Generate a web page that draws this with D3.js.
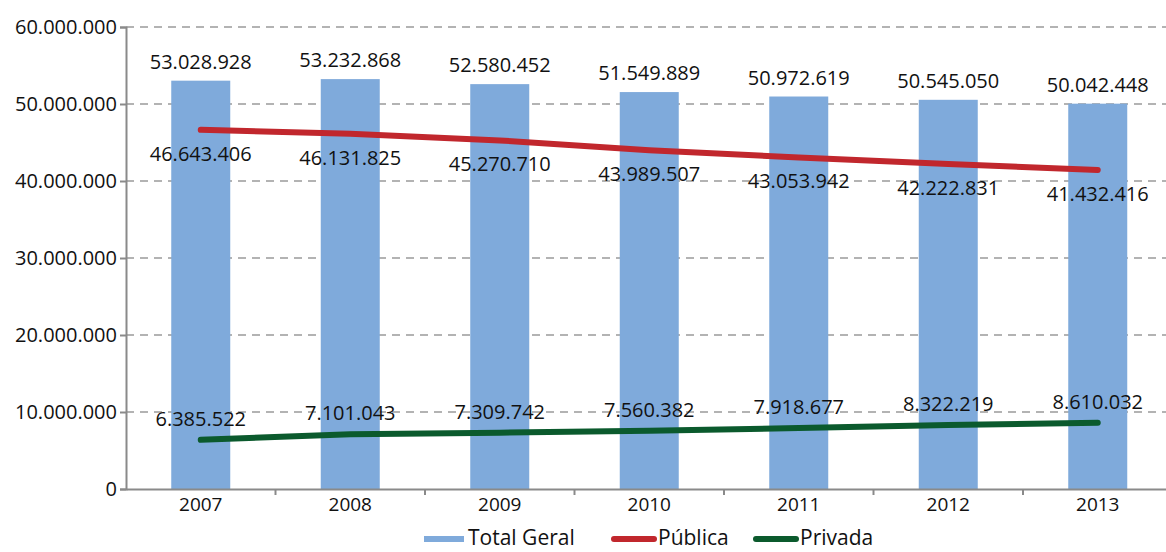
<!DOCTYPE html>
<meta charset="utf-8">
<html>
<head>
<script src="https://d3js.org/d3.v7.min.js"></script>
<style>
body { margin: 0; background: #fff; }
text { font-family: "Open Sans", "DejaVu Sans", sans-serif; fill: #111; }
</style>
</head>
<body>
<script>
var years = ["2007", "2008", "2009", "2010", "2011", "2012", "2013"];
var totalGeral = [53028928, 53232868, 52580452, 51549889, 50972619, 50545050, 50042448];
var publica = [46643406, 46131825, 45270710, 43989507, 43053942, 42222831, 41432416];
var privada = [6385522, 7101043, 7309742, 7560382, 7918677, 8322219, 8610032];
var yTicks = [0, 10000000, 20000000, 30000000, 40000000, 50000000, 60000000];

var W = 1166, H = 552;
var mLeft = 126, mTop = 27, mBottom = 489;

var fmt = function(v) { return d3.format(",")(v).replace(/,/g, "."); };

var svg = d3.select("body").append("svg").attr("width", W).attr("height", H);

var x = d3.scaleBand().domain(years).range([mLeft, mLeft + 7 * 149.5]).paddingInner(0).paddingOuter(0);
var y = d3.scaleLinear().domain([0, 60000000]).range([mBottom, mTop]);
var barW = 59;

// grid
svg.append("g").selectAll("line")
  .data(yTicks.slice(1))
  .enter().append("line")
  .attr("x1", mLeft).attr("x2", W)
  .attr("y1", function(d) { return y(d); }).attr("y2", function(d) { return y(d); })
  .attr("stroke", "#9a9a9a").attr("stroke-width", 1.5).attr("stroke-dasharray", "8,6");

// bars
svg.append("g").selectAll("rect")
  .data(totalGeral)
  .enter().append("rect")
  .attr("x", function(d, i) { return x(years[i]) + x.bandwidth() / 2 - barW / 2; })
  .attr("y", function(d) { return y(d); })
  .attr("width", barW)
  .attr("height", function(d) { return mBottom - y(d); })
  .attr("fill", "#7faadb");

// y axis
var yAxis = svg.append("g").attr("transform", "translate(" + mLeft + ",0)")
  .call(d3.axisLeft(y).tickValues(yTicks).tickFormat(fmt).tickSize(6).tickPadding(3));
yAxis.select(".domain").attr("stroke", "#8a8a8a").attr("stroke-width", 2);
yAxis.selectAll(".tick line").attr("stroke", "#8a8a8a").attr("stroke-width", 2);
yAxis.selectAll(".tick text").style("font-size", "20px").attr("fill", "#111");

// x axis
var xAxis = svg.append("g").attr("transform", "translate(0," + mBottom + ")")
  .call(d3.axisBottom(x).tickSize(0).tickPadding(9));
xAxis.select(".domain").attr("stroke", "#8a8a8a").attr("stroke-width", 2);
xAxis.selectAll(".tick text").style("font-size", "19px").attr("fill", "#111");
// category separators
svg.append("g").selectAll("line")
  .data(years.slice(1))
  .enter().append("line")
  .attr("x1", function(d) { return x(d); }).attr("x2", function(d) { return x(d); })
  .attr("y1", mBottom).attr("y2", mBottom + 6)
  .attr("stroke", "#8a8a8a").attr("stroke-width", 2);

// lines
var cx = function(d, i) { return x(years[i]) + x.bandwidth() / 2; };
var line = d3.line().x(cx).y(function(d) { return y(d); });
svg.append("path").datum(publica).attr("d", line)
  .attr("fill", "none").attr("stroke", "#c1272d").attr("stroke-width", 6).attr("stroke-linecap", "round");
svg.append("path").datum(privada).attr("d", line)
  .attr("fill", "none").attr("stroke", "#0b5a2d").attr("stroke-width", 6).attr("stroke-linecap", "round");

// labels
svg.append("g").selectAll("text")
  .data(totalGeral).enter().append("text")
  .attr("x", cx).attr("y", function(d) { return y(d) - 12; })
  .attr("text-anchor", "middle").style("font-size", "20px").text(fmt);
svg.append("g").selectAll("text")
  .data(publica).enter().append("text")
  .attr("x", cx).attr("y", function(d) { return y(d) + 31; })
  .attr("text-anchor", "middle").style("font-size", "20px").text(fmt);
svg.append("g").selectAll("text")
  .data(privada).enter().append("text")
  .attr("x", cx).attr("y", function(d) { return y(d) - 14; })
  .attr("text-anchor", "middle").style("font-size", "20px").text(fmt);

// legend
var legend = [
  {name: "Total Geral", color: "#7faadb", x: 424},
  {name: "Pública", color: "#c1272d", x: 614},
  {name: "Privada", color: "#0b5a2d", x: 756}
];
var lg = svg.append("g").selectAll("g").data(legend).enter().append("g")
  .attr("transform", function(d) { return "translate(" + d.x + ",539)"; });
lg.append("line").attr("x1", 0).attr("x2", 40).attr("y1", 0).attr("y2", 0)
  .attr("stroke", function(d) { return d.color; }).attr("stroke-width", 6)
  .attr("stroke-linecap", function(d) { return d.name === "Total Geral" ? "butt" : "round"; });
lg.append("text").attr("x", 44).attr("y", 6).style("font-size", "21px").text(function(d) { return d.name; });
</script>
</body>
</html>
